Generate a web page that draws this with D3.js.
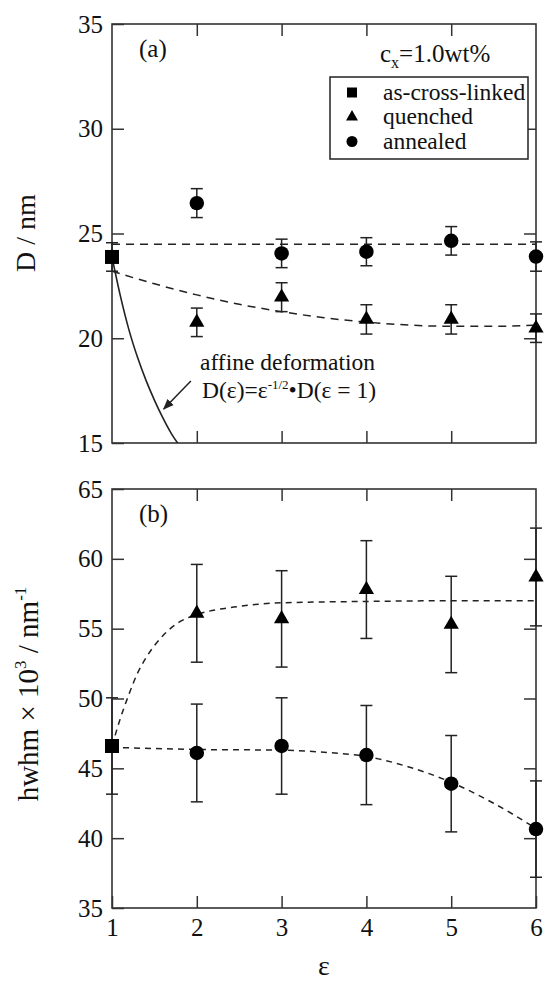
<!DOCTYPE html>
<html>
<head>
<meta charset="utf-8">
<script src="https://cdn.jsdelivr.net/npm/d3@7"></script>
<style>
  body { margin: 0; background: #fff; }
  text { font-family: "Liberation Serif", "Times New Roman", serif; fill: #111; }
</style>
</head>
<body>
<div id="chart"></div>
<script>
// strain values (epsilon)
var epsCross = [1];
var epsStretch = [2, 3, 4, 5, 6];
var xTicks = [1, 2, 3, 4, 5, 6];

// panel (a): D / nm
var dTicks = [15, 20, 25, 30, 35];
var dCross = [23.88], dCrossErr = [0.68];
var dQuench = [20.76, 21.96, 20.9, 20.9, 20.48];
var dQuenchErr = [0.68, 0.69, 0.7, 0.7, 0.68];
var dAnneal = [26.45, 24.05, 24.13, 24.65, 23.9];
var dAnnealErr = [0.69, 0.68, 0.67, 0.68, 0.7];
// guide lines
var dAnnealFitX = [1, 6], dAnnealFitY = [24.49, 24.49];
var dQuenchFitX = [1, 1.5, 2, 2.5, 3, 3.5, 4, 4.5, 5, 5.5, 6];
var dQuenchFitY = [23.2, 22.6, 22.07, 21.62, 21.27, 20.98, 20.77, 20.63, 20.57, 20.57, 20.63];
var affineX = [1, 1.1, 1.2, 1.3, 1.4, 1.5, 1.6, 1.7, 1.8, 1.9];
var affineY = [23.88, 22.0, 20.4, 19.1, 18.0, 17.05, 16.2, 15.45, 14.85, 14.3];

// panel (b): hwhm x 10^3 / nm^-1
var hTicks = [35, 40, 45, 50, 55, 60, 65];
var hCross = [46.6], hCrossErr = [3.45];
var hQuench = [56.1, 55.7, 57.8, 55.3, 58.7];
var hQuenchErr = [3.5, 3.45, 3.5, 3.45, 3.5];
var hAnneal = [46.1, 46.6, 45.95, 43.9, 40.65];
var hAnnealErr = [3.5, 3.45, 3.55, 3.45, 3.45];
var hQuenchFitX = [1, 1.1, 1.2, 1.3, 1.4, 1.6, 1.8, 2, 2.5, 3, 4, 5, 6];
var hQuenchFitY = [46.6, 48.6, 50.3, 51.8, 52.9, 54.5, 55.5, 56.0, 56.6, 56.85, 56.95, 57.0, 57.0];
var hAnnealFitX = [1, 2, 3, 3.5, 4, 4.5, 5, 5.5, 6];
var hAnnealFitY = [46.5, 46.35, 46.3, 46.15, 45.85, 45.1, 44.0, 42.5, 40.7];

var width = 544, height = 984;
var svg = d3.select("#chart").append("svg")
    .attr("width", width)
    .attr("height", height);

var x = d3.scaleLinear().domain([1, 6]).range([112, 536]);
var ya = d3.scaleLinear().domain([15, 35]).range([443, 24]);
var yb = d3.scaleLinear().domain([35, 65]).range([908, 489]);

var ink = "#222";

function zip(xs, ys) { return xs.map(function(v, i) { return [v, ys[i]]; }); }

function panel(y, id, yt, showX) {
    var g = svg.append("g");
    var top = y.range()[1], bot = y.range()[0];

    g.append("clipPath").attr("id", id)
      .append("rect")
        .attr("x", x(1)).attr("y", top)
        .attr("width", x(6) - x(1)).attr("height", bot - top);

    var yl = d3.axisLeft(y).tickValues(yt).tickSize(-12).tickPadding(9);
    g.append("g").attr("transform", "translate(" + x(1) + ",0)").call(yl)
        .call(s => s.select(".domain").remove())
        .call(s => s.selectAll("text").attr("dy", "0.32em").style("font-size", "25px"));

    var yr = d3.axisRight(y).tickValues(yt.slice(1, -1)).tickSize(-12).tickFormat("");
    g.append("g").attr("transform", "translate(" + x(6) + ",0)").call(yr)
        .call(s => s.select(".domain").remove());

    var xt = d3.axisTop(x).tickValues(xTicks.slice(1, -1)).tickSize(-12).tickFormat("");
    g.append("g").attr("transform", "translate(0," + top + ")").call(xt)
        .call(s => s.select(".domain").remove());

    var xb = d3.axisBottom(x).tickValues(showX ? xTicks : xTicks.slice(1, -1))
        .tickSize(-12).tickPadding(10).tickFormat(showX ? d3.format("d") : "");
    g.append("g").attr("transform", "translate(0," + bot + ")").call(xb)
        .call(s => s.select(".domain").remove())
        .call(s => s.selectAll("text").style("font-size", "25px"));

    g.selectAll(".tick line").attr("stroke", "#333").attr("stroke-width", 1.5);
    g.selectAll(".tick text").attr("fill", "#111").style("font-family", "Liberation Serif, serif");

    g.append("rect")
        .attr("x", x(1)).attr("y", top)
        .attr("width", x(6) - x(1)).attr("height", bot - top)
        .attr("fill", "none").attr("stroke", "#333").attr("stroke-width", 1.6);

    return g;
}

function fit(g, y, pts, dash, curve, clip) {
    g.append("path")
        .datum(pts)
        .attr("clip-path", "url(#" + clip + ")")
        .attr("fill", "none")
        .attr("stroke", ink)
        .attr("stroke-width", 1.5)
        .attr("stroke-dasharray", dash)
        .attr("d", d3.line().x(d => x(d[0])).y(d => y(d[1])).curve(curve));
}

function errBars(g, y, xs, ys, es) {
    var d = xs.map(function(v, i) { return {x: v, y: ys[i], e: es[i]}; });
    var eb = g.append("g").attr("stroke", ink).attr("stroke-width", 1.5);
    eb.selectAll(".v").data(d).enter().append("line")
        .attr("x1", d => x(d.x)).attr("x2", d => x(d.x))
        .attr("y1", d => y(d.y - d.e)).attr("y2", d => y(d.y + d.e));
    [-1, 1].forEach(function(s) {
        eb.selectAll(".c" + s).data(d).enter().append("line")
            .attr("x1", d => x(d.x) - 6).attr("x2", d => x(d.x) + 6)
            .attr("y1", d => y(d.y + s * d.e)).attr("y2", d => y(d.y + s * d.e));
    });
}

var symSize = {square: 196, triangle: 100, circle: 165};
var symType = {square: d3.symbolSquare, triangle: d3.symbolTriangle, circle: d3.symbolCircle};

function markers(g, y, xs, ys, kind) {
    g.selectAll(".m-" + kind + y.domain()[0]).data(zip(xs, ys)).enter().append("path")
        .attr("transform", d => "translate(" + x(d[0]) + "," + y(d[1]) + ")")
        .attr("d", d3.symbol().type(symType[kind]).size(symSize[kind]))
        .attr("fill", "#000");
}

// ---------- panel (a)
var ga = panel(ya, "clipA", dTicks, false);
fit(ga, ya, zip(dAnnealFitX, dAnnealFitY), "8,6", d3.curveLinear, "clipA");
fit(ga, ya, zip(dQuenchFitX, dQuenchFitY), "8,6", d3.curveMonotoneX, "clipA");
ga.append("path")
    .datum(zip(affineX, affineY))
    .attr("clip-path", "url(#clipA)")
    .attr("fill", "none").attr("stroke", ink).attr("stroke-width", 1.6)
    .attr("d", d3.line().x(d => x(d[0])).y(d => ya(d[1])).curve(d3.curveMonotoneX));

errBars(ga, ya, epsCross, dCross, dCrossErr);
errBars(ga, ya, epsStretch, dQuench, dQuenchErr);
errBars(ga, ya, epsStretch, dAnneal, dAnnealErr);
markers(ga, ya, epsCross, dCross, "square");
markers(ga, ya, epsStretch, dQuench, "triangle");
markers(ga, ya, epsStretch, dAnneal, "circle");

ga.append("text").attr("x", 139).attr("y", 57).style("font-size", "25px").text("(a)");

var cx = ga.append("text").attr("x", 380).attr("y", 62).style("font-size", "25px");
cx.append("tspan").text("c");
cx.append("tspan").attr("dy", 6).style("font-size", "16px").text("x");
cx.append("tspan").attr("dy", -6).text("=1.0wt%");

// legend
var legItems = [
    {label: "as-cross-linked", kind: "square"},
    {label: "quenched", kind: "triangle"},
    {label: "annealed", kind: "circle"}
];
var leg = ga.append("g").attr("transform", "translate(330,77)");
leg.append("rect").attr("width", 198).attr("height", 82)
    .attr("fill", "#fff").attr("stroke", ink).attr("stroke-width", 1.5);
var legSize = {square: 100, triangle: 62, circle: 95};
legItems.forEach(function(it, i) {
    var yy = 15.5 + i * 24.5;
    leg.append("path")
        .attr("transform", "translate(22," + yy + ")")
        .attr("d", d3.symbol().type(symType[it.kind]).size(legSize[it.kind]))
        .attr("fill", "#000");
    leg.append("text").attr("x", 53).attr("y", yy + 7)
        .style("font-size", "23.5px").text(it.label);
});

// affine annotation
var defs = svg.append("defs");
defs.append("marker").attr("id", "arrow")
    .attr("viewBox", "0 0 10 10").attr("refX", 9).attr("refY", 5)
    .attr("markerWidth", 11).attr("markerHeight", 11).attr("orient", "auto")
    .attr("markerUnits", "userSpaceOnUse")
  .append("path").attr("d", "M0,1 L10,5 L0,9 Z").attr("fill", ink);
var arrowFrom = [1.93, 17.96], arrowTo = [1.61, 16.62];
ga.append("line")
    .attr("x1", x(arrowFrom[0])).attr("y1", ya(arrowFrom[1]))
    .attr("x2", x(arrowTo[0])).attr("y2", ya(arrowTo[1]))
    .attr("stroke", ink).attr("stroke-width", 1.5)
    .attr("marker-end", "url(#arrow)");
ga.append("text").attr("x", 200).attr("y", 370).style("font-size", "23.5px").text("affine deformation");
var fm = ga.append("text").attr("x", 202).attr("y", 398).style("font-size", "23.5px");
fm.append("tspan").text("D(ε)=ε");
fm.append("tspan").attr("dy", -9).style("font-size", "13px").text("-1/2");
fm.append("tspan").attr("dy", 9).text("•D(ε = 1)");

svg.append("text")
    .attr("transform", "translate(35,233) rotate(-90)")
    .attr("text-anchor", "middle")
    .style("font-size", "28px")
    .text("D / nm");

// ---------- panel (b)
var gb = panel(yb, "clipB", hTicks, true);
fit(gb, yb, zip(hQuenchFitX, hQuenchFitY), "6,5", d3.curveMonotoneX, "clipB");
fit(gb, yb, zip(hAnnealFitX, hAnnealFitY), "6,5", d3.curveMonotoneX, "clipB");

errBars(gb, yb, epsCross, hCross, hCrossErr);
errBars(gb, yb, epsStretch, hQuench, hQuenchErr);
errBars(gb, yb, epsStretch, hAnneal, hAnnealErr);
markers(gb, yb, epsCross, hCross, "square");
markers(gb, yb, epsStretch, hQuench, "triangle");
markers(gb, yb, epsStretch, hAnneal, "circle");

gb.append("text").attr("x", 139).attr("y", 522).style("font-size", "25px").text("(b)");

var yt = svg.append("text")
    .attr("transform", "translate(38,694) rotate(-90)")
    .attr("text-anchor", "middle")
    .style("font-size", "29px");
yt.append("tspan").text("hwhm × 10");
yt.append("tspan").attr("dy", -12).style("font-size", "17px").text("3");
yt.append("tspan").attr("dy", 12).text(" / nm");
yt.append("tspan").attr("dy", -12).style("font-size", "17px").text("-1");

svg.append("text")
    .attr("x", 324).attr("y", 975)
    .attr("text-anchor", "middle")
    .style("font-size", "28px")
    .text("ε");
</script>
</body>
</html>
